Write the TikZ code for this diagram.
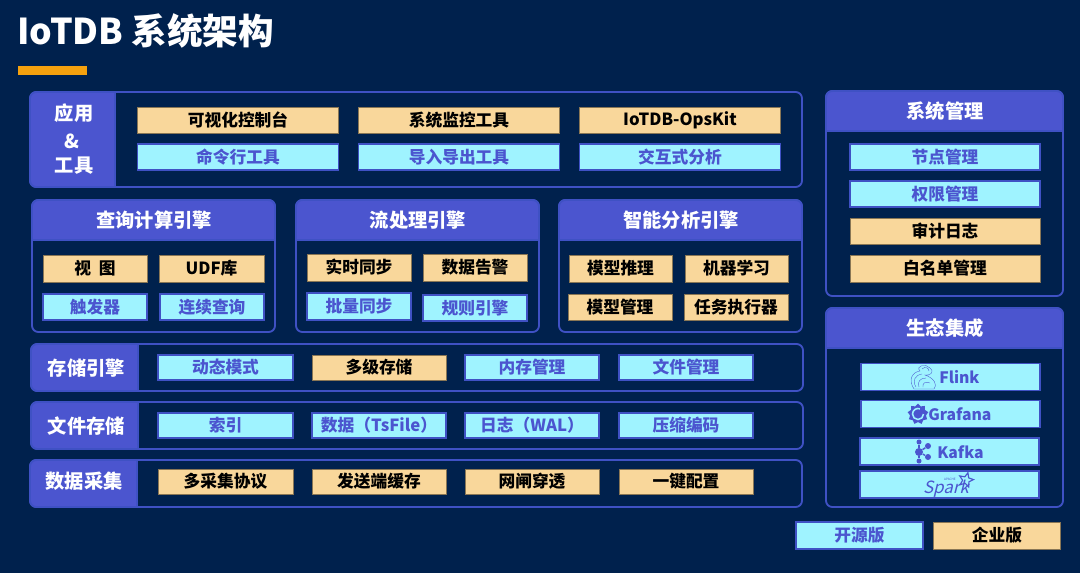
\documentclass[tikz,border=0pt]{standalone}
\usepackage{fontspec}
\usepackage{tikz}
\usetikzlibrary{shapes.geometric}
\setmainfont{Noto Sans CJK SC}
\definecolor{bgblue}{HTML}{00214D}
\definecolor{headblue}{HTML}{4B55CF}
\definecolor{lineblue}{HTML}{3F51C4}
\definecolor{freefill}{HTML}{9FF3FF}
\definecolor{paidfill}{HTML}{F9D79B}
\definecolor{barorange}{HTML}{F5A10E}
\tikzset{
  boxsize/.style 2 args={minimum width=#1*0.025cm, minimum height=#2*0.025cm},
  panel/.style={draw=lineblue, line width=1.3pt, rounded corners=4.5pt, inner sep=0pt},
  head/.style={fill=headblue, draw=lineblue, line width=1.3pt},
  headtext/.style={text=white, font=\fontsize{13.7}{14}\selectfont\bfseries, inner sep=0pt},
  free/.style={fill=freefill, draw=lineblue, line width=0.9pt, text=headblue, inner sep=0pt,
    font=\fontsize{11.9}{12}\selectfont\bfseries},
  paid/.style={fill=paidfill, draw=black!45!paidfill, line width=0.7pt, text=black, inner sep=0pt,
    font=\fontsize{11.9}{12}\selectfont\bfseries},
  logotext/.style={anchor=west, text=headblue, inner sep=0pt, font=\fontsize{11.2}{12}\selectfont\bfseries},
  logoline/.style={draw=headblue, line width=0.25pt},
}

\begin{document}
\begin{tikzpicture}[x=0.025cm, y=-0.025cm]
  \useasboundingbox (0,0) rectangle (1080,573);
  \fill[bgblue] (0,0) rectangle (1080,573);

  % Title
  \node[anchor=west, text=white, inner sep=0pt, font=\fontsize{25.3}{26}\selectfont\bfseries] (title) at (17,31) {IoTDB 系统架构};
  \node[fill=barorange, inner sep=0pt, boxsize={69}{9}] (titlebar) at (52,70.5) {};

  % Applications and tools
  \node[panel, boxsize={772}{95}] (appPanel) at (416,139.5) {};
  \filldraw[head] (115,92) [rounded corners=4.5pt] -- (30,92) -- (30,187) [sharp corners] -- (115,187) -- cycle;
  \node[headtext] (appA) at (74,113) {应用};
  \node[headtext] (appB) at (72,141) {\&};
  \node[headtext] (appC) at (74,166) {工具};
  \node[paid, boxsize={201}{26}] (appVis) at (238,120) {可视化控制台};
  \node[paid, boxsize={201}{26}] (appMon) at (459,120) {系统监控工具};
  \node[paid, boxsize={201}{26}] (appOps) at (680,120) {IoTDB-OpsKit};
  \node[free, boxsize={201}{26}] (appCli) at (238,157) {命令行工具};
  \node[free, boxsize={201}{26}] (appImp) at (459,157) {导入导出工具};
  \node[free, boxsize={201}{26}] (appAna) at (680,157) {交互式分析};

  % Query engine
  \node[panel, boxsize={243}{132}] (queryPanel) at (153.5,266) {};
  \filldraw[head] (32,240) [rounded corners=4.5pt] -- (32,200) -- (275,200) [sharp corners] -- (275,240) -- cycle;
  \node[headtext] (queryHead) at (154,220) {查询计算引擎};
  \node[paid, boxsize={104}{27}] (queryView) at (95,268.5) {视\ \ 图};
  \node[paid, boxsize={105}{27}] (queryUdf) at (211.5,268.5) {UDF库};
  \node[free, boxsize={104}{26}] (queryTrig) at (95,307) {触发器};
  \node[free, boxsize={104}{26}] (queryCont) at (212,307) {连续查询};

  % Stream engine
  \node[panel, boxsize={243}{132}] (streamPanel) at (417.5,266) {};
  \filldraw[head] (296,240) [rounded corners=4.5pt] -- (296,200) -- (539,200) [sharp corners] -- (539,240) -- cycle;
  \node[headtext] (streamHead) at (418,220) {流处理引擎};
  \node[paid, boxsize={104}{27}] (streamSync) at (359,267.5) {实时同步};
  \node[paid, boxsize={104}{27}] (streamAlert) at (475,267.5) {数据告警};
  \node[free, boxsize={104}{27}] (streamBatch) at (359,306.5) {批量同步};
  \node[free, boxsize={104}{26}] (streamRule) at (475,308) {规则引擎};

  % Analysis engine
  \node[panel, boxsize={243}{132}] (aiPanel) at (680.5,266) {};
  \filldraw[head] (559,240) [rounded corners=4.5pt] -- (559,200) -- (802,200) [sharp corners] -- (802,240) -- cycle;
  \node[headtext] (aiHead) at (681,220) {智能分析引擎};
  \node[paid, boxsize={103}{27}] (aiInfer) at (620.5,268.5) {模型推理};
  \node[paid, boxsize={103}{27}] (aiLearn) at (736.5,268.5) {机器学习};
  \node[paid, boxsize={104}{26}] (aiManage) at (620,307) {模型管理};
  \node[paid, boxsize={104}{26}] (aiTask) at (736,307) {任务执行器};

  % Storage engine
  \node[panel, boxsize={772}{47}] (storePanel) at (417,367.5) {};
  \filldraw[head] (138,344) [rounded corners=4.5pt] -- (31,344) -- (31,391) [sharp corners] -- (138,391) -- cycle;
  \node[headtext] (storeHead) at (86.5,368) {存储引擎};
  \node[free, boxsize={135}{25}] (storeDyn) at (225.5,367.5) {动态模式};
  \node[paid, boxsize={134}{25}] (storeTier) at (379,367.5) {多级存储};
  \node[free, boxsize={134}{25}] (storeMem) at (532,367.5) {内存管理};
  \node[free, boxsize={134}{25}] (storeFile) at (686,367.5) {文件管理};

  % File storage
  \node[panel, boxsize={772}{47}] (filePanel) at (417,425.5) {};
  \filldraw[head] (138,402) [rounded corners=4.5pt] -- (31,402) -- (31,449) [sharp corners] -- (138,449) -- cycle;
  \node[headtext] (fileHead) at (86.5,426) {文件存储};
  \node[free, boxsize={135}{25}] (fileIndex) at (225.5,425.5) {索引};
  \node[free, boxsize={134}{25}] (fileTs) at (379,425.5) {数据（TsFile）};
  \node[free, boxsize={134}{25}] (fileWal) at (532,425.5) {日志（WAL）};
  \node[free, boxsize={134}{25}] (fileCodec) at (686,425.5) {压缩编码};

  % Data collection
  \node[panel, boxsize={772}{47}] (dataPanel) at (416,483.5) {};
  \filldraw[head] (137,460) [rounded corners=4.5pt] -- (30,460) -- (30,507) [sharp corners] -- (137,507) -- cycle;
  \node[headtext] (dataHead) at (84,481) {数据采集};
  \node[paid, boxsize={135}{25}] (dataProto) at (225.5,481.5) {多采集协议};
  \node[paid, boxsize={134}{25}] (dataCache) at (379,481.5) {发送端缓存};
  \node[paid, boxsize={134}{25}] (dataGate) at (532,481.5) {网闸穿透};
  \node[paid, boxsize={134}{25}] (dataConf) at (686,481.5) {一键配置};

  % System management
  \node[panel, boxsize={237}{205}] (sysPanel) at (944.5,193.5) {};
  \filldraw[head] (826,131) [rounded corners=4.5pt] -- (826,91) -- (1063,91) [sharp corners] -- (1063,131) -- cycle;
  \node[headtext] (sysHead) at (945,111) {系统管理};
  \node[free, boxsize={190}{26}] (sysNode) at (945,157) {节点管理};
  \node[free, boxsize={190}{26}] (sysAuth) at (945,194) {权限管理};
  \node[paid, boxsize={190}{26}] (sysAudit) at (945,231) {审计日志};
  \node[paid, boxsize={190}{27}] (sysWhite) at (945,268.5) {白名单管理};

  % Ecosystem
  \node[panel, boxsize={237}{199}] (ecoPanel) at (944.5,407.5) {};
  \filldraw[head] (826,348) [rounded corners=4.5pt] -- (826,308) -- (1063,308) [sharp corners] -- (1063,348) -- cycle;
  \node[headtext] (ecoHead) at (945,328) {生态集成};
  \node[free, boxsize={179}{27}] (ecoFlink) at (950.5,377) {};
  \node[free, boxsize={179}{27}] (ecoGrafana) at (950.5,414) {};
  \node[free, boxsize={179}{27}] (ecoKafka) at (949.5,451.5) {};
  \node[free, boxsize={179}{27}] (ecoSpark) at (949.5,484.5) {};

  % Flink logo
  \node[logotext] (flinkText) at (939,377) {Flink};
  \draw[logoline] (914,389) .. controls (908,380) and (912,372) .. (920,371) .. controls (915,366) and (926,363) .. (930,368) .. controls (935,372) and (930,376) .. (925,375) .. controls (934,378) and (938,385) .. (934,389) -- cycle;
  \draw[logoline] (916,387) .. controls (912,381) and (915,375) .. (922,374);
  \draw[logoline] (919,387) .. controls (917,382) and (920,378) .. (926,378);
  \draw[logoline] (923,387) .. controls (922,383) and (926,381) .. (930,383);
  \draw[logoline] (922,369) .. controls (925,366) and (929,368) .. (929,371);

  % Grafana logo
  \node[logotext] (grafanaText) at (928,414) {Grafana};
  \node[star, star points=9, star point ratio=1.3, fill=headblue, inner sep=0pt, minimum size=21*0.025cm] (grafanaGear) at (918,414) {};
  \draw[freefill, line width=1.1pt] (923.5,414) arc[start angle=0, end angle=290, radius=5.5];
  \draw[headblue, line width=1.1pt] (921,414) arc[start angle=0, end angle=270, radius=3];

  % Kafka logo
  \node[logotext] (kafkaText) at (937,452) {Kafka};
  \node[circle, fill=headblue, inner sep=0pt, minimum size=8*0.025cm] (kafkaHub) at (919,452) {};
  \node[circle, fill=headblue, inner sep=0pt, minimum size=5*0.025cm] (kafkaTop) at (919,442) {};
  \node[circle, fill=headblue, inner sep=0pt, minimum size=5*0.025cm] (kafkaBot) at (919,461) {};
  \node[circle, fill=headblue, inner sep=0pt, minimum size=6*0.025cm] (kafkaUp) at (928,446) {};
  \node[circle, fill=headblue, inner sep=0pt, minimum size=6*0.025cm] (kafkaLow) at (928,457) {};
  \draw[headblue, line width=1pt] (kafkaTop) -- (kafkaHub) -- (kafkaBot);
  \draw[headblue, line width=1pt] (kafkaUp) -- (kafkaHub) -- (kafkaLow);

  % Spark logo
  \node[text=headblue, inner sep=0pt, xslant=0.25, font=\fontsize{12}{12}\selectfont] (sparkText) at (947,489) {Spark};
  \node[text=headblue, inner sep=0pt, font=\fontsize{2.2}{3}\selectfont] (sparkTop) at (950,479) {APACHE};
  \node[star, star points=5, star point ratio=2.2, draw=headblue, line width=0.8pt, inner sep=0pt, minimum size=15*0.025cm, rotate=-15] (sparkStar) at (966,480) {};

  % Legend
  \node[free, boxsize={127}{27}] (legendFree) at (859.5,535.5) {开源版};
  \node[paid, boxsize={127}{27}] (legendPaid) at (997,535.5) {企业版};
\end{tikzpicture}
\end{document}
